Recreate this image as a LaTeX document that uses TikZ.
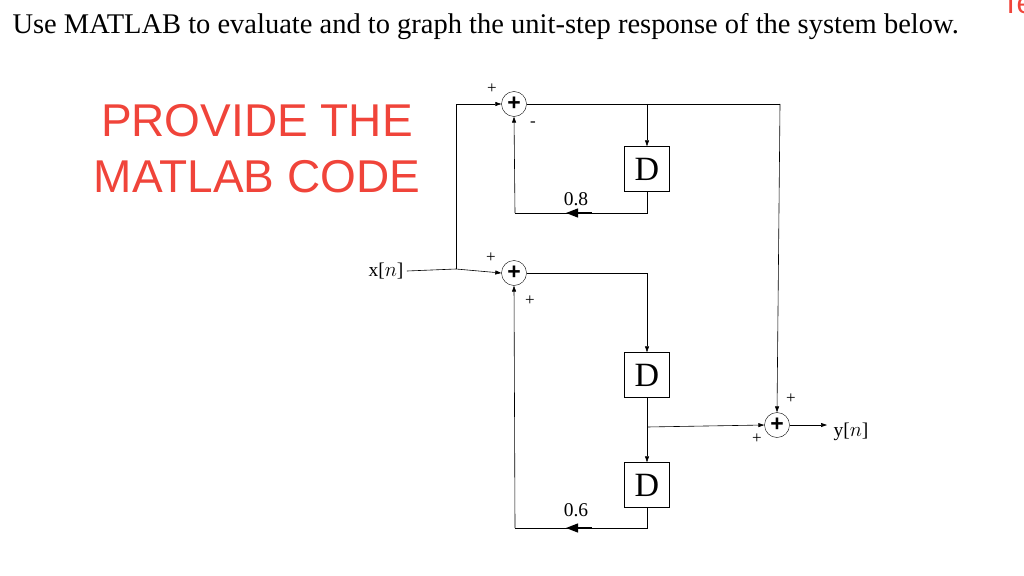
\documentclass[tikz,border=0pt]{standalone}
\usepackage{fontspec}
\setmainfont{Liberation Serif}
\newfontfamily\redsans{Liberation Sans}
\usetikzlibrary{arrows.meta}
\definecolor{redtxt}{HTML}{F0443A}
\begin{document}
\begin{tikzpicture}[x=1pt,y=-1pt,
  sum/.style={circle,draw,minimum size=25pt,inner sep=0pt,font=\redsans\bfseries\fontsize{23}{23}\selectfont},
  dly/.style={draw,minimum size=45pt,inner sep=0pt,font=\fontsize{34}{34}\selectfont},
  sig/.style={-{Triangle[length=6pt,width=4pt]},line width=0.6pt},
  ln/.style={line width=0.6pt},
  sgn/.style={font=\fontsize{17}{17}\selectfont},
  lab/.style={font=\fontsize{19.5}{19.5}\selectfont},
  gain/.style={-{Triangle[length=12pt,width=9pt]},line width=1.2pt}]
\useasboundingbox (0,0) rectangle (1024,575);
\clip (0,0) rectangle (1024,575);
\node[anchor=west,font=\fontsize{28.5}{28.5}\selectfont] (title) at (9,27) {Use MATLAB to evaluate and to graph the unit-step response of the system below.};
\node[text=redtxt,font=\redsans\fontsize{30}{30}\selectfont,anchor=west] (te) at (998,3) {Te};
\node[text=redtxt,font=\redsans\fontsize{46}{56}\selectfont,align=center] (prov) at (257,149) {PROVIDE THE\\MATLAB CODE};
\node[sum] (s1) at (514,104) {+};
\node[sum] (s2) at (514,273) {+};
\node[sum] (s3) at (777,425) {+};
\node[dly] (d1) at (647,169) {D};
\node[dly] (d2) at (647,375) {D};
\node[dly] (d3) at (647,485) {D};
\node[lab] (x) at (386,271) {x[$n$]};
\node[lab,anchor=west] (y) at (830,432) {y[$n$]};
\coordinate (xj) at (456,269);
\coordinate (tr) at (780,104);
\coordinate (b1) at (647,104);
\coordinate (f1a) at (647,213);
\coordinate (f1b) at (515,213);
\coordinate (b2) at (647,273);
\coordinate (b3) at (647,427);
\coordinate (f2a) at (647,528);
\coordinate (f2b) at (515,528);
\draw[ln] (x.east) -- (xj);
\draw[sig] (xj) -- (s2.west);
\draw[sig] (xj) |- (s1.west);
\draw[ln] (s1.east) -- (tr);
\draw[sig] (tr) -- (s3.north);
\draw[sig] (b1) -- (d1.north);
\draw[ln] (d1.south) -- (f1a) -- (f1b);
\draw[sig] (f1b) -- (s1.south);
\draw[gain] (592,213) -- (566,213);
\draw[ln] (s2.east) -- (b2);
\draw[sig] (b2) -- (d2.north);
\draw[sig] (d2.south) -- (d3.north);
\draw[sig] (b3) -- (s3.west);
\draw[ln] (d3.south) -- (f2a) -- (f2b);
\draw[sig] (f2b) -- (s2.south);
\draw[gain] (592,528) -- (566,528);
\draw[sig] (s3.east) -- (827,425);
\node[lab] (g1) at (576,199) {0.8};
\node[lab] (g2) at (576,510) {0.6};
\node[sgn] (p1) at (492,89) {+};
\node[sgn] (m1) at (533,124) {-};
\node[sgn] (p2) at (491,258) {+};
\node[sgn] (p3) at (530,301) {+};
\node[sgn] (p4) at (791,399) {+};
\node[sgn] (p5) at (757,439) {+};
\end{tikzpicture}
\end{document}
